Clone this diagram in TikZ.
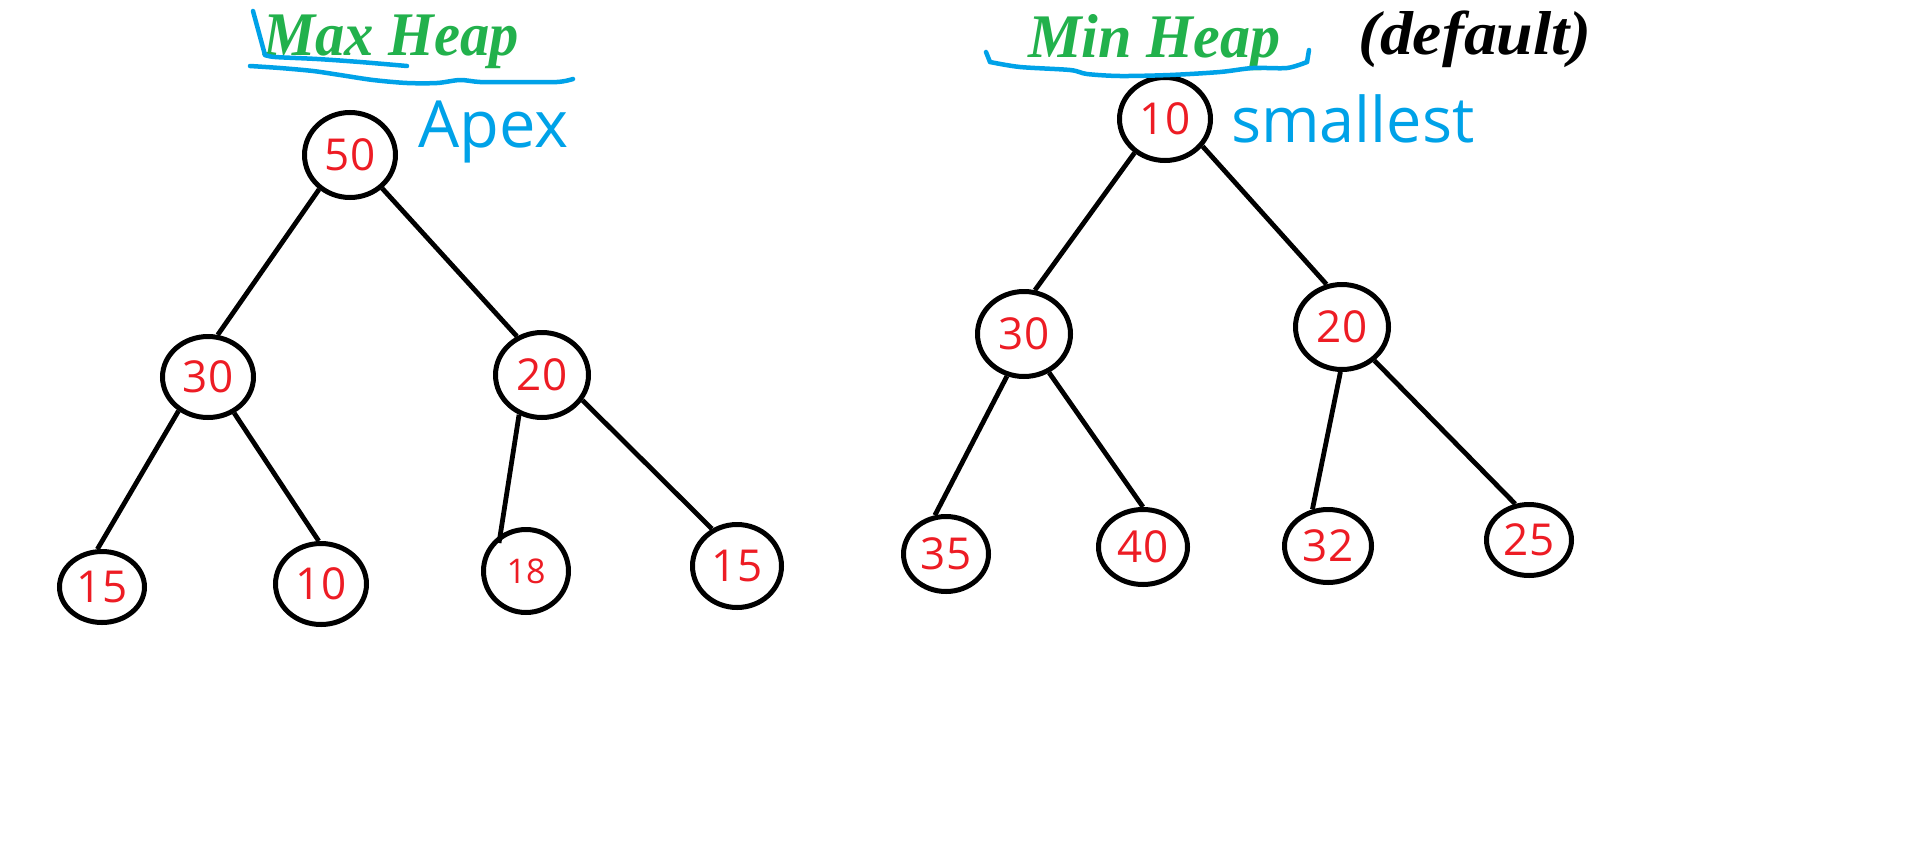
\documentclass[tikz,border=0pt]{standalone}
\usepackage{fontspec}
\setmainfont{Liberation Serif}
\newfontfamily\handfont{Open Sans}
\usetikzlibrary{shapes.geometric}
\definecolor{pgreen}{RGB}{34,177,76}
\definecolor{pblue}{RGB}{0,162,232}
\definecolor{pred}{RGB}{237,28,36}
\begin{document}
\begin{tikzpicture}[x=1pt,y=-1pt,
  heapnode/.style={ellipse, draw=black, line width=5pt, inner sep=0pt, text=pred,
    font=\handfont\fontsize{44}{44}\selectfont},
  esize/.style 2 args={minimum width=#1pt, minimum height=#2pt},
  edge/.style={draw=black, line width=4.8pt},
  title/.style={font=\bfseries\itshape\fontsize{62}{62}\selectfont, anchor=base west, inner sep=0pt},
  note/.style={text=pblue, font=\handfont\fontsize{62}{62}\selectfont, anchor=base west, inner sep=0pt},
  ink/.style={draw=pblue, line width=4.5pt, line cap=round, line join=round}
]
\useasboundingbox[fill=white] (0,0) rectangle (1914,854);

% Max heap
\node[heapnode, esize={91}{85}] (m50) at (350,155) {50};
\node[heapnode, esize={91}{81}] (m30) at (208,377) {30};
\node[heapnode, esize={93}{85}] (m20) at (542,375) {20};
\node[heapnode, esize={85}{71}] (m15a) at (102,587) {15};
\node[heapnode, esize={91}{81}] (m10) at (321,584) {10};
\node[heapnode, esize={85}{83}, font=\handfont\fontsize{34}{34}\selectfont] (m18) at (526,571) {18};
\node[heapnode, esize={89}{83}] (m15b) at (737,566) {15};
\coordinate (m18in) at ([shift={(-27,-28)}]m18.center);

% Min heap
\node[heapnode, esize={91}{83}] (n10) at (1165,119) {10};
\node[heapnode, esize={93}{85}] (n30) at (1024,334) {30};
\node[heapnode, esize={93}{85}] (n20) at (1342,327) {20};
\node[heapnode, esize={85}{75}] (n35) at (946,554) {35};
\node[heapnode, esize={89}{75}] (n40) at (1143,547) {40};
\node[heapnode, esize={87}{73}] (n32) at (1328,546) {32};
\node[heapnode, esize={85}{71}] (n25) at (1529,540) {25};

% edges
\draw[edge] (m50.228) -- (m30.77);
\draw[edge] (m50.314) -- (m20.123);
\draw[edge] (m30.229) -- (m15a.97);
\draw[edge] (m30.306) -- (m10.93);
\draw[edge] (m20.240) -- (m18in);
\draw[edge] (m20.328) -- (m15b.124);
\draw[edge] (n10.228) -- (n30.76);
\draw[edge] (n10.324) -- (n20.110);
\draw[edge] (n30.248) -- (n35.106);
\draw[edge] (n30.303) -- (n40.90);
\draw[edge] (n20.268) -- (n32.113);
\draw[edge] (n20.314) -- (n25.111);

% titles
\node[title, text=pgreen] (tmax) at (263,55) {\scalebox{0.945}[1]{Max Heap}};
\node[title, text=pgreen] (tmin) at (1028,57) {\scalebox{0.97}[1]{Min Heap}};
\node[title, text=black] (tdef) at (1358,54) {\scalebox{1.06}[1]{(default)}};

% handwritten notes
\node[note, font=\handfont\fontsize{65}{65}\selectfont] (apex) at (418,147) {Apex};
\node[note, font=\handfont\fontsize{63}{63}\selectfont] (small) at (1231,142) {smallest};

% blue underline strokes
\draw[ink] (253,11) -- (265,55);
\draw[ink] plot[smooth] coordinates {(265,55) (275,57) (317,59) (360,62) (407,66)};
\draw[ink] plot[smooth] coordinates {(250,66) (280,68) (313,71) (340,75) (373,80) (407,83) (437,83) (460,80) (480,82) (513,82) (557,82) (573,79)};
\draw[ink] (986,52) -- (990,62);
\draw[ink] plot[smooth] coordinates {(990,62) (1020,67) (1070,70) (1087,74) (1120,76) (1170,75) (1220,72) (1253,68) (1287,68) (1307,62)};
\draw[ink] (1307,62) -- (1309,50);
\end{tikzpicture}
\end{document}
